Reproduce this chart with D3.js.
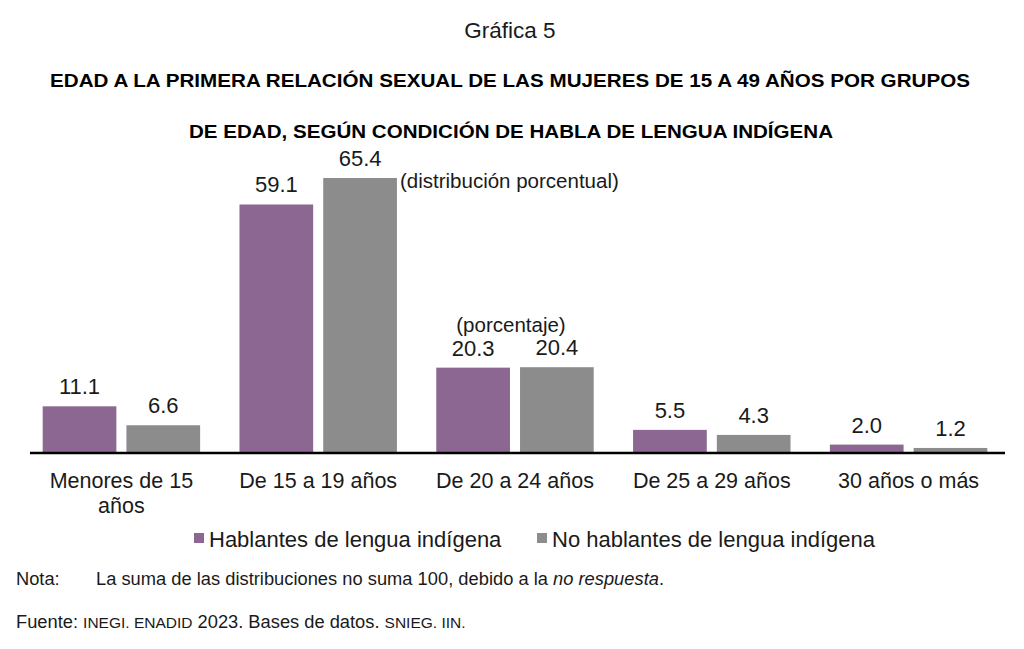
<!DOCTYPE html>
<html><head><meta charset="utf-8">
<script src="https://cdn.jsdelivr.net/npm/d3@7"></script>
<style>body{margin:0;background:#fff;} svg{display:block;font-family:"Liberation Sans",Arial,sans-serif;}</style>
</head><body>
<svg id="c" width="1024" height="649"></svg>
<script>
const categories = [["Menores de 15","años"],["De 15 a 19 años"],["De 20 a 24 años"],["De 25 a 29 años"],["30 años o más"]];
const seriesNames = ["Hablantes de lengua indígena","No hablantes de lengua indígena"];
const hablantes = [11.1, 59.1, 20.3, 5.5, 2.0];
const noHablantes = [6.6, 65.4, 20.4, 4.3, 1.2];
const colors = ["#8b6792","#8c8c8c"];

const svg = d3.select("#c");
const base = 453;
const x = d3.scaleBand().domain(d3.range(categories.length)).range([23, 1007]).paddingInner(0.2).paddingOuter(0.1);
const x1 = d3.scaleBand().domain([0,1]).range([0, x.bandwidth()]).paddingInner(0.12);
const y = d3.scaleLinear().domain([0, 65.4]).range([base, 178]);

// titles
svg.append("text").attr("x",510).attr("y",38).attr("text-anchor","middle").attr("font-size",22.5).attr("fill","#1a1a1a").text("Gráfica 5");
svg.append("text").attr("x",510).attr("y",87).attr("text-anchor","middle").attr("font-size",18.5).attr("font-weight","bold")
  .attr("textLength",920).attr("lengthAdjust","spacingAndGlyphs")
  .text("EDAD A LA PRIMERA RELACIÓN SEXUAL DE LAS MUJERES DE 15 A 49 AÑOS POR GRUPOS");
svg.append("text").attr("x",511).attr("y",138).attr("text-anchor","middle").attr("font-size",18.5).attr("font-weight","bold")
  .attr("textLength",644).attr("lengthAdjust","spacingAndGlyphs")
  .text("DE EDAD, SEGÚN CONDICIÓN DE HABLA DE LENGUA INDÍGENA");

const series = [hablantes, noHablantes];
series.forEach((vals, s) => {
  const g = svg.append("g");
  g.selectAll("rect").data(vals).join("rect")
    .attr("x",(d,i)=>x(i)+x1(s)).attr("width",x1.bandwidth())
    .attr("y",d=>y(d)).attr("height",d=>base-y(d)).attr("fill",colors[s]);
  g.selectAll("text").data(vals).join("text")
    .attr("x",(d,i)=>x(i)+x1(s)+x1.bandwidth()/2).attr("y",d=>y(d)-12)
    .attr("text-anchor","middle").attr("font-size",22).attr("fill","#1a1a1a")
    .text(d=>d.toFixed(1));
});

// axis
const axis = d3.axisBottom(x).tickSize(0).tickFormat("");
const ag = svg.append("g").attr("transform",`translate(0,${base})`).call(axis);
ag.select(".domain").attr("stroke","#000").attr("stroke-width",2.5).attr("d","M30,0H1005");
categories.forEach((lines,i)=>{
  const t = svg.append("text").attr("x",x(i)+x.bandwidth()/2).attr("y",488).attr("text-anchor","middle").attr("font-size",21.5).attr("fill","#1a1a1a");
  lines.forEach((l,j)=>t.append("tspan").attr("x",x(i)+x.bandwidth()/2).attr("dy",j?25:0).text(l));
});

// annotations
svg.append("text").attr("x",400).attr("y",188).attr("font-size",20.5).attr("fill","#1a1a1a").text("(distribución porcentual)");
svg.append("text").attr("x",511).attr("y",332).attr("text-anchor","middle").attr("font-size",20.5).attr("fill","#1a1a1a").text("(porcentaje)");

// legend
const leg = [{x:194,tx:209},{x:537,tx:552}];
seriesNames.forEach((n,i)=>{
  svg.append("rect").attr("x",leg[i].x).attr("y",533).attr("width",10).attr("height",10).attr("fill",colors[i]);
  svg.append("text").attr("x",leg[i].tx).attr("y",547).attr("font-size",22).attr("fill","#1a1a1a").text(n);
});

// notes
svg.append("text").attr("x",16).attr("y",585).attr("font-size",18.3).attr("fill","#1a1a1a").text("Nota:");
const nt = svg.append("text").attr("x",96).attr("y",585).attr("font-size",18.3).attr("fill","#1a1a1a")
  .attr("textLength",568).attr("lengthAdjust","spacing");
nt.append("tspan").text("La suma de las distribuciones no suma 100, debido a la ");
nt.append("tspan").attr("font-style","italic").text("no respuesta");
nt.append("tspan").text(".");
const ft = svg.append("text").attr("x",16).attr("y",628).attr("font-size",18.3).attr("fill","#1a1a1a");
[["Fuente: ",18.3],["INEGI. ENADID",15.5],[" 2023. Bases de datos. ",18.3],["SNIEG. IIN.",15.5]].forEach(([t,s])=>ft.append("tspan").attr("font-size",s).text(t));
</script>
</body></html>
